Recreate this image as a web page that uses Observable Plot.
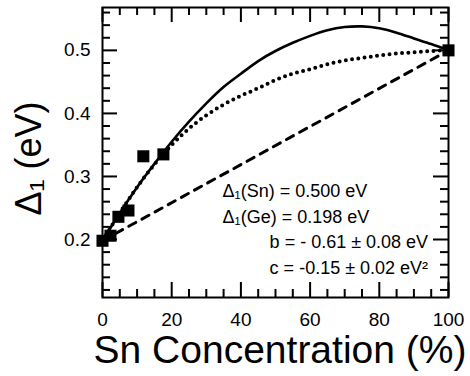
<!DOCTYPE html>
<html><head><meta charset="utf-8">
<script src="https://cdn.jsdelivr.net/npm/d3@7"></script>
<script src="https://cdn.jsdelivr.net/npm/@observablehq/plot@0.6"></script>
<style>html,body{margin:0;padding:0;background:#fff}svg{display:block}#note{position:fixed;left:0;top:0;margin:0;width:0;height:0;overflow:hidden}</style>
</head><body><div id="chart"></div><pre id="note"></pre>
<script>
// ---- data ----
const snConc = [0, 2.3, 4.6, 7.5, 11.8, 17.6, 100];
const delta1 = [0.198, 0.206, 0.236, 0.246, 0.332, 0.335, 0.500];
const curveX = [0, 5, 10, 15, 20, 25, 30, 35, 40, 45, 50, 55, 60, 65, 70, 75, 80, 85, 90, 95, 100];
const fitSolid = [0.198, 0.242, 0.283, 0.320, 0.355, 0.387, 0.416, 0.442, 0.463, 0.483, 0.499, 0.512, 0.523, 0.532, 0.537, 0.538, 0.535, 0.528, 0.519, 0.510, 0.500];
const fitDotted = [0.198, 0.242, 0.283, 0.319, 0.350, 0.376, 0.397, 0.414, 0.428, 0.440, 0.453, 0.463, 0.470, 0.478, 0.484, 0.488, 0.492, 0.495, 0.497, 0.499, 0.500];
const linearX = [0, 100];
const linearY = [0.198, 0.500];
const xTickValues = [0, 20, 40, 60, 80, 100];
const yTickValues = [0.2, 0.3, 0.4, 0.5];
const xMinorTicks = [5, 10, 15, 25, 30, 35, 45, 50, 55, 65, 70, 75, 85, 90, 95];
const yMinorTicks = [0.12, 0.14, 0.16, 0.18, 0.22, 0.24, 0.26, 0.28, 0.32, 0.34, 0.36, 0.38, 0.42, 0.44, 0.46, 0.48, 0.52, 0.54, 0.56];
const annotText = ["Δ₁(Sn) = 0.500 eV", "Δ₁(Ge) = 0.198 eV", "b = - 0.61 ± 0.08 eV", "c = -0.15 ± 0.02 eV²"];
const xLabel = "Sn Concentration (%)";
const yLabel = "Δ₁ (eV)";

// ---- layout ----
const annotX = [34.7, 34.7, 48.3, 48.3];
const annotY = [0.267, 0.226, 0.187, 0.146];
const W = 470, H = 376, mL = 102, mR = 22, mT = 7, mB = 79;
const fw = W - mL - mR, fh = H - mT - mB;
const major = 15, minor = 8;

const points = snConc.map((x, i) => ({x, y: delta1[i]}));
const solid = curveX.map((x, i) => ({x, y: fitSolid[i]}));
const dotted = curveX.map((x, i) => ({x, y: fitDotted[i]}));
const linearPts = linearX.map((x, i) => ({x, y: linearY[i]}));
const annots = annotText.map((t, i) => ({t, x: annotX[i], y: annotY[i]}));

let info = "";
try {
const tk = {stroke: "#000", strokeWidth: 2};
const chart = Plot.plot({
  width: W, height: H, marginLeft: mL, marginRight: mR, marginTop: mT, marginBottom: mB,
  style: {fontFamily: "'Liberation Sans', Arial, sans-serif", background: "#fff", color: "#000", overflow: "visible"},
  x: {domain: [0, 100]}, y: {domain: [0.108, 0.568]},
  marks: [
    Plot.tickX(xTickValues, {...tk, insetTop: fh - major}),
    Plot.tickX(xTickValues, {...tk, insetBottom: fh - major}),
    Plot.tickX(xMinorTicks, {...tk, insetTop: fh - minor}),
    Plot.tickX(xMinorTicks, {...tk, insetBottom: fh - minor}),
    Plot.tickY(yTickValues, {...tk, insetRight: fw - major}),
    Plot.tickY(yTickValues, {...tk, insetLeft: fw - major}),
    Plot.tickY(yMinorTicks, {...tk, insetRight: fw - minor}),
    Plot.tickY(yMinorTicks, {...tk, insetLeft: fw - minor}),
    Plot.axisX(xTickValues, {anchor: "bottom", tickSize: 0, tickPadding: 15, fontSize: 19, label: null, tickFormat: d3.format("d")}),
    Plot.axisY(yTickValues, {anchor: "left", tickSize: 0, tickPadding: 12, fontSize: 19, label: null, tickFormat: d3.format(".1f")}),
    Plot.frame({stroke: "#000", strokeWidth: 2}),
    Plot.line(linearPts, {x: "x", y: "y", stroke: "#000", strokeWidth: 3, strokeDasharray: "8,7"}),
    Plot.line(dotted, {x: "x", y: "y", curve: "natural", stroke: "#000", strokeWidth: 4, strokeDasharray: "0,6.3", strokeLinecap: "round"}),
    Plot.line(solid, {x: "x", y: "y", curve: "natural", stroke: "#000", strokeWidth: 2.6}),
    Plot.dot(points, {x: "x", y: "y", symbol: "square", r: 6.8, fill: "#000", stroke: null}),
    Plot.text(annots, {x: "x", y: "y", text: "t", textAnchor: "start", lineAnchor: "bottom", fontSize: 18}),
    Plot.text([xLabel], {frameAnchor: "bottom", dx: 4.5, dy: 65, lineAnchor: "bottom", fontSize: 39}),
    Plot.text([yLabel], {frameAnchor: "left", rotate: -90, dx: -62, dy: 6, textAnchor: "middle", lineAnchor: "bottom", fontSize: 36})
  ]
});
document.getElementById("chart").appendChild(chart);
chart.querySelectorAll("svg > *").forEach(g => { const b = g.getBBox ? g.getBBox() : {}; info += (g.getAttribute("aria-label") || g.tagName) + ":" + Math.round(b.width || 0) + ";"; });
} catch (e) { info = "ERR " + e.message; }
document.getElementById("note").setAttribute("data-info", info);
</script>
</body></html>
